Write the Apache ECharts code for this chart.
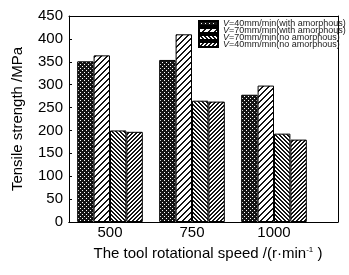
<!DOCTYPE html>
<html>
<head>
<meta charset="utf-8">
<script src="https://cdn.jsdelivr.net/npm/echarts@6/dist/echarts.min.js"></script>
<style>
html, body { margin: 0; padding: 0; background: #fff; }
#myChart { width: 349px; height: 275px; }
</style>
</head>
<body>
<div id="myChart"></div>
<script>
var speeds = ['500', '750', '1000'];
var v40With = [351, 354, 278];
var v70With = [364, 410, 298];
var v70No = [200, 265, 193];
var v40No = [197, 263, 180];
var seriesNames = [
    '{i|V}=40mm/min(with amorphous)',
    '{i|V}=70mm/min(with amorphous)',
    '{i|V}=70mm/min(no amorphous)',
    '{i|V}=40mm/min(no amorphous)'
];

var font = 'Liberation Sans, Arial, sans-serif';

// small tiled patterns for the hatched bars
function makePattern(size, test) {
    var c = document.createElement('canvas');
    c.width = size;
    c.height = size;
    var ctx = c.getContext('2d');
    var img = ctx.createImageData(size, size);
    for (var y = 0; y < size; y++) {
        for (var x = 0; x < size; x++) {
            var v = test(x, y) ? 20 : 255;
            var i = (y * size + x) * 4;
            img.data[i] = v; img.data[i + 1] = v; img.data[i + 2] = v; img.data[i + 3] = 255;
        }
    }
    ctx.putImageData(img, 0, 0);
    return { image: c, repeat: 'repeat' };
}

var pCross = makePattern(4, function (x, y) { return !((x + y) % 4 == 0 && (x - y + 8) % 4 == 0); });
var pWide = makePattern(6, function (x, y) { return (x + y) % 6 < 2; });
var pBack = makePattern(4, function (x, y) { return (x - y + 8) % 4 < 2; });
var pFwd = makePattern(4, function (x, y) { return (x + y) % 4 < 2; });
var patterns = [pCross, pWide, pBack, pFwd];
var values = [v40With, v70With, v70No, v40No];

var myChart = echarts.init(document.getElementById('myChart'));

var series = values.map(function (d, k) {
    return {
        name: seriesNames[k],
        type: 'bar',
        xAxisIndex: 2,
        yAxisIndex: 1,
        barGap: '0%',
        barCategoryGap: '20%',
        itemStyle: { color: patterns[k], borderColor: '#000', borderWidth: 1 },
        data: d
    };
});

var frameAxis = {
    gridIndex: 0, type: 'value', min: 0, max: 1,
    axisLine: { show: true, onZero: false, lineStyle: { color: '#000', width: 1 } },
    axisTick: { show: false }, axisLabel: { show: false }, splitLine: { show: false }
};

myChart.setOption({
    animation: false,
    backgroundColor: '#fff',
    textStyle: { fontFamily: font },
    grid: [
        { left: 69, top: 16, right: 11, bottom: 53 },
        { left: 69, top: 16, right: 34, bottom: 53 }
    ],
    legend: {
        orient: 'vertical',
        left: 198,
        top: 19,
        padding: 0,
        itemGap: -2,
        itemWidth: 19,
        itemHeight: 5,
        icon: 'rect',
        textStyle: {
            fontFamily: font,
            fontSize: 9,
            color: '#222',
            rich: { i: { fontStyle: 'italic', fontSize: 9, fontFamily: font, color: '#222' } }
        },
        data: seriesNames
    },
    xAxis: [
        Object.assign({}, frameAxis, { position: 'top' }),
        Object.assign({}, frameAxis, { position: 'bottom' }),
        {
            gridIndex: 1,
            type: 'category',
            data: speeds,
            axisLine: { lineStyle: { color: '#000', width: 1 } },
            axisTick: { show: false },
            axisLabel: { color: '#000', fontSize: 15, margin: 3, fontFamily: font },
            name: 'The tool rotational speed /(r·min{sup|-1} )',
            nameLocation: 'middle',
            nameGap: 24,
            nameTextStyle: {
                color: '#000', fontSize: 15, fontFamily: font,
                padding: [0, 0, 0, 32],
                rich: { sup: { fontSize: 8, verticalAlign: 'top', color: '#000', fontFamily: font, padding: [0, 0, 6, 0] } }
            }
        }
    ],
    yAxis: [
        Object.assign({}, frameAxis, { position: 'right' }),
        {
            gridIndex: 1,
            type: 'value',
            min: 0,
            max: 450,
            interval: 50,
            splitLine: { show: false },
            axisLine: { show: true, lineStyle: { color: '#000', width: 1 } },
            axisTick: { show: true, inside: true, length: 3, lineStyle: { color: '#000' } },
            axisLabel: { color: '#000', fontSize: 15, margin: 6, fontFamily: font },
            name: 'Tensile strength /MPa',
            nameLocation: 'middle',
            nameGap: 44,
            nameTextStyle: { color: '#000', fontSize: 15, fontFamily: font }
        }
    ],
    series: series
});

window.onresize = function () {
    myChart.resize();
};
</script>
</body>
</html>
